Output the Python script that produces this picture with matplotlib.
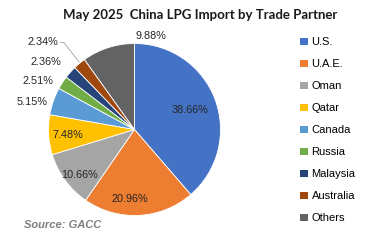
import matplotlib
matplotlib.use("Agg")
from matplotlib import pyplot as plt
from matplotlib.patches import Patch

# data
partners = ["U.S.", "U.A.E.", "Oman", "Qatar", "Canada", "Russia", "Malaysia", "Australia", "Others"]
shares = [38.66, 20.96, 10.66, 7.48, 5.15, 2.51, 2.36, 2.34, 9.88]
colors = ["#4472C4", "#ED7D31", "#A5A5A5", "#FFC000", "#5B9BD5",
          "#70AD47", "#264478", "#9E480E", "#636363"]

# label centres in pie units (layout only)
label_pos = [(0.64, 0.23), (-0.06, -0.81), (-0.64, -0.53), (-0.78, -0.06),
             (-1.19, 0.32), (-1.12, 0.56), (-1.03, 0.79), (-1.07, 1.02), (0.19, 1.09)]

W, H = 376, 249
fig = plt.figure(figsize=(W / 100, H / 100), dpi=100)
plt.rcParams["font.family"] = ["Liberation Sans", "DejaVu Sans"]

cx, cy, r = 134.5, 129.5, 86
ax = fig.add_axes([(cx - r) / W, (H - cy - r) / H, 2 * r / W, 2 * r / H])
wedges, _ = ax.pie(shares, colors=colors, startangle=90, counterclock=False,
                   radius=1, wedgeprops=dict(linewidth=0.6, edgecolor="white"))
ax.set_xlim(-1, 1)
ax.set_ylim(-1, 1)
ax.set_aspect("equal")
ax.axis("off")

for v, (lx, ly) in zip(shares, label_pos):
    ax.text(lx, ly, "{:.2f}%".format(v), ha="center", va="center",
            fontsize=7.8, color="#262626", clip_on=False)

# leader line for Australia
ax.plot([-0.86, -0.82, -0.645], [1.01, 1.01, 0.785], color="#A0A0A0",
        lw=0.6, clip_on=False)

fig.text(200 / W, 1 - 15 / H, "May 2025  China LPG Import by Trade Partner",
         ha="center", va="center", fontsize=9.5, fontweight="bold",
         family=["Lato", "DejaVu Sans"], color="#1a1a1a")

handles = [Patch(facecolor=c, edgecolor="none") for c in colors]
fig.legend(handles, partners, loc="upper left", bbox_to_anchor=(296 / W, 1 - 33 / H),
           frameon=False, fontsize=8, handlelength=0.65, handleheight=0.65,
           handletextpad=0.35, labelspacing=1.08, borderaxespad=0)

fig.text(63 / W, 1 - 225 / H, "Source: GACC", ha="center", va="center",
         fontsize=8, fontweight="bold", fontstyle="italic", color="#7F7F7F")

fig.savefig("out.png", dpi=100)
